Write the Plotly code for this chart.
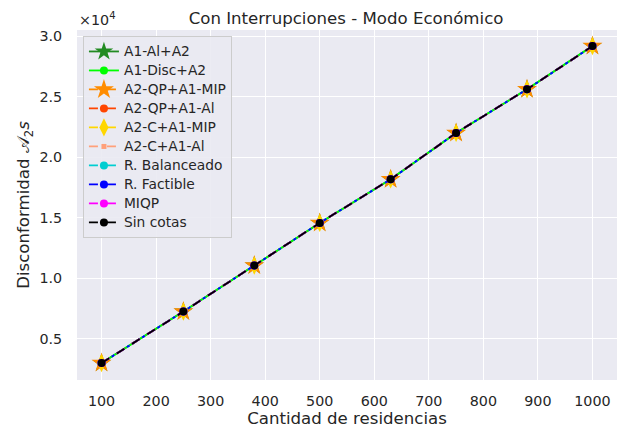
import plotly.graph_objects as go

residencias = [100, 250, 380, 500, 630, 750, 880, 1000]
disconformidad = [3000, 7250, 11050, 14570, 18170, 22000, 25600, 29170]

series_names = ["A1-Al+A2", "A1-Disc+A2", "A2-QP+A1-MIP", "A2-QP+A1-Al", "A2-C+A1-MIP",
                "A2-C+A1-Al", "R. Balanceado", "R. Factible", "MIQP", "Sin cotas"]
series_values = {name: disconformidad for name in series_names}

yticks = [5000, 10000, 15000, 20000, 25000, 30000]
yticktext = ["0.5", "1.0", "1.5", "2.0", "2.5", "3.0"]
xticks = [100, 200, 300, 400, 500, 600, 700, 800, 900, 1000]

styles = {
    "A1-Al+A2": dict(color="#228B22", dash="solid", symbol="star", size=14),
    "A1-Disc+A2": dict(color="#00FF00", dash="solid", symbol="circle", size=8),
    "A2-QP+A1-MIP": dict(color="#FF8C00", dash="dash", symbol="star", size=15),
    "A2-QP+A1-Al": dict(color="#FF4500", dash="dash", symbol="circle", size=8),
    "A2-C+A1-MIP": dict(color="#FFD700", dash="dash", symbol="diamond-tall", size=13),
    "A2-C+A1-Al": dict(color="#FFA07A", dash="dash", symbol="square", size=5),
    "R. Balanceado": dict(color="#00CED1", dash="dashdot", symbol="circle", size=8),
    "R. Factible": dict(color="#0000FF", dash="dashdot", symbol="circle", size=8),
    "MIQP": dict(color="#FF00FF", dash="dash", symbol="circle", size=8),
    "Sin cotas": dict(color="#000000", dash="dash", symbol="circle", size=8),
}

fig = go.Figure()
for name in series_names:
    s = styles[name]
    fig.add_trace(go.Scatter(
        x=residencias, y=series_values[name],
        name=f'<span style="font-size:13.8px">{name}</span>', mode="lines+markers",
        line=dict(color=s["color"], dash=s["dash"], width=1.8),
        marker=dict(color=s["color"], symbol=s["symbol"], size=s["size"], line=dict(width=0)),
    ))

font = "DejaVu Sans"
fig.update_layout(
    width=618, height=423,
    margin=dict(l=69, r=9, t=22, b=51),
    plot_bgcolor="#EAEAF2", paper_bgcolor="white",
    font=dict(family=font, size=14.3, color="#262626"),
    title=dict(text="Con Interrupciones - Modo Económico", x=0.547, xanchor="center",
               y=0.976, yanchor="middle", font=dict(size=16.6, color="#262626")),
    showlegend=True,
    legend=dict(x=0.011, y=0.983, xanchor="left", yanchor="top",
                bgcolor="rgba(234,234,242,0.9)", bordercolor="#CCCCCC", borderwidth=1,
                font=dict(size=12, color="#262626"), tracegroupgap=0),
)
fig.update_xaxes(range=[55, 1045], tickvals=xticks, showgrid=True, gridcolor="white",
                 gridwidth=1.2, zeroline=False, showline=False, ticks="outside", ticklen=8,
                 tickcolor="rgba(0,0,0,0)", automargin=False,
                 tickfont=dict(size=14.3), title=dict(text="Cantidad de residencias",
                 font=dict(size=16.6), standoff=2))
fig.update_yaxes(range=[1600, 30500], tickvals=yticks, ticktext=yticktext, showgrid=True,
                 gridcolor="white", gridwidth=1.2, zeroline=False, showline=False,
                 ticks="outside", ticklen=11, tickcolor="rgba(0,0,0,0)",
                 automargin=False, tickfont=dict(size=14.3),
                 title=dict(text="Disconformidad 𝒜<sub>2</sub><i>s</i>",
                 font=dict(size=16.6), standoff=5))
fig.add_annotation(text="×10<sup>4</sup>", xref="paper", yref="paper", x=0.0, y=1.0,
                   xanchor="left", yanchor="bottom", showarrow=False, yshift=0,
                   font=dict(size=14.3, color="#262626"))
fig.write_html("out.html")
